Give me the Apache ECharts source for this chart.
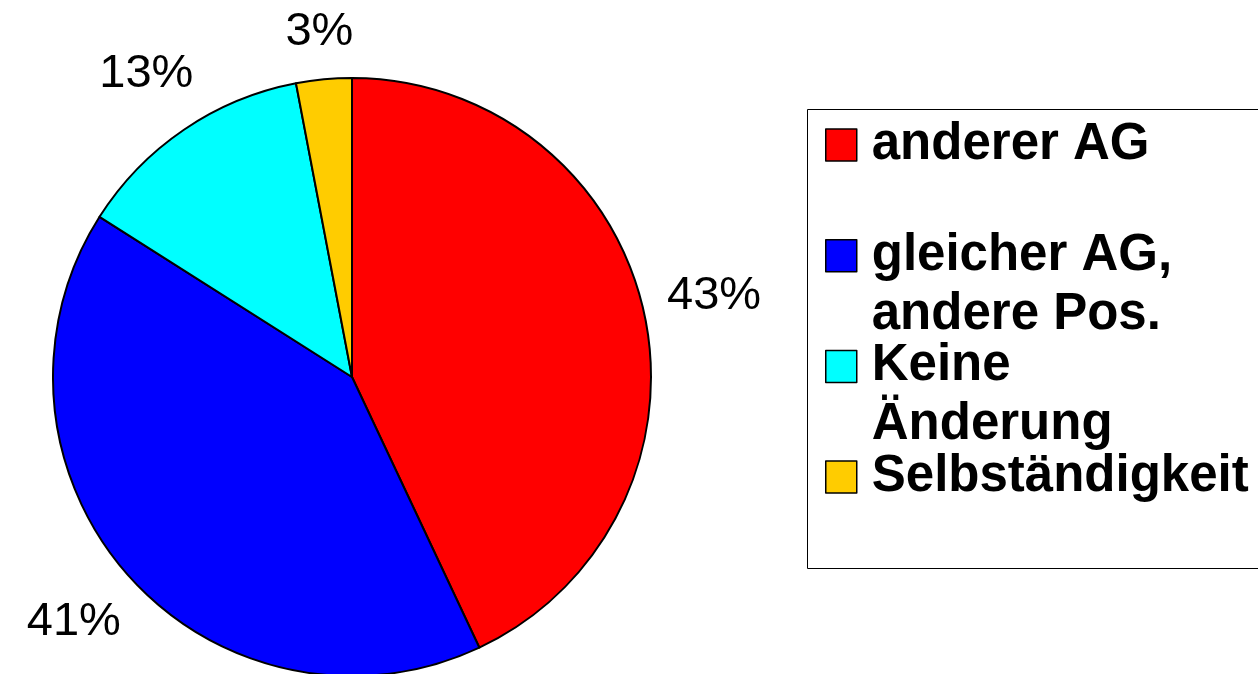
<!DOCTYPE html>
<html>
<head>
<meta charset="utf-8">
<script src="https://cdn.jsdelivr.net/npm/echarts@6/dist/echarts.min.js"></script>
<style>
  html, body { margin: 0; padding: 0; background: #fff; }
  #chart { width: 1258px; height: 674px; }
</style>
</head>
<body>
<div id="chart"></div>
<script>
// ---- data ----
var categories = ['anderer AG', 'gleicher AG,\nandere Pos.', 'Keine\nÄnderung', 'Selbständigkeit'];
var shares = [43, 41, 13, 3];
var colors = ['#FF0000', '#0000FF', '#00FFFF', '#FFCC00'];

// ---- layout constants ----
var CX = 352, CY = 377, R = 299;
var LABEL_GAP = 21;
var LEGEND_LEFT = 825, LEGEND_FIRST = 145, LEGEND_STEP = 110.7, LINE_H = 59;
var FONT = '"Liberation Sans", Arial, Helvetica, sans-serif';

var total = shares.reduce(function (a, b) { return a + b; }, 0);
var midAngles = [];
(function () {
  var acc = 0;
  for (var i = 0; i < shares.length; i++) {
    midAngles.push((acc + shares[i] / 2) / total * Math.PI * 2);
    acc += shares[i];
  }
})();

var legends = categories.map(function (name, i) {
  var lines = name.split('\n').length;
  var center = LEGEND_FIRST + i * LEGEND_STEP;
  // a blank leading line per extra line keeps the first text line level with the marker
  var lead = '';
  for (var k = 1; k < lines; k++) lead += ' \n';
  return {
    data: [name],
    orient: 'vertical',
    left: LEGEND_LEFT,
    top: center - (2 * lines - 1) * LINE_H / 2,
    padding: 0,
    icon: 'rect',
    itemWidth: 31,
    itemHeight: 32,
    selectedMode: false,
    itemStyle: { borderColor: '#000', borderWidth: 1.5 },
    formatter: function (n) { return lead + n; },
    textStyle: {
      fontFamily: FONT,
      fontWeight: 'bold',
      fontSize: 51,
      lineHeight: LINE_H,
      color: '#000',
      padding: [0, 0, 0, 10]
    }
  };
});

var chart = echarts.init(document.getElementById('chart'), null, { renderer: 'canvas' });
chart.setOption({
  animation: false,
  backgroundColor: '#fff',
  color: colors,
  legend: legends,
  graphic: [{
    type: 'rect',
    shape: { x: 807.5, y: 109.5, width: 520, height: 459 },
    style: { fill: 'none', stroke: '#000', lineWidth: 1 },
    z: -1
  }],
  series: [{
    type: 'pie',
    center: [CX, CY],
    radius: R,
    startAngle: 90,
    clockwise: true,
    avoidLabelOverlap: false,
    data: categories.map(function (c, i) { return { name: c, value: shares[i] }; }),
    itemStyle: { borderColor: '#000', borderWidth: 2 },
    label: {
      show: true,
      position: 'outside',
      formatter: '{c}%',
      fontFamily: FONT,
      fontSize: 47,
      color: '#000'
    },
    labelLine: { show: false },
    emphasis: { disabled: true },
    labelLayout: function (params) {
      var t = midAngles[params.dataIndex];
      var ux = Math.sin(t), uy = -Math.cos(t);
      var w = params.labelRect.width, h = params.labelRect.height;
      var ext = w / 2 * Math.abs(ux) + h / 2 * Math.abs(uy);
      var d = R + LABEL_GAP + ext;
      return { x: CX + d * ux, y: CY + d * uy, align: 'center', verticalAlign: 'middle' };
    }
  }]
});
</script>
</body>
</html>
